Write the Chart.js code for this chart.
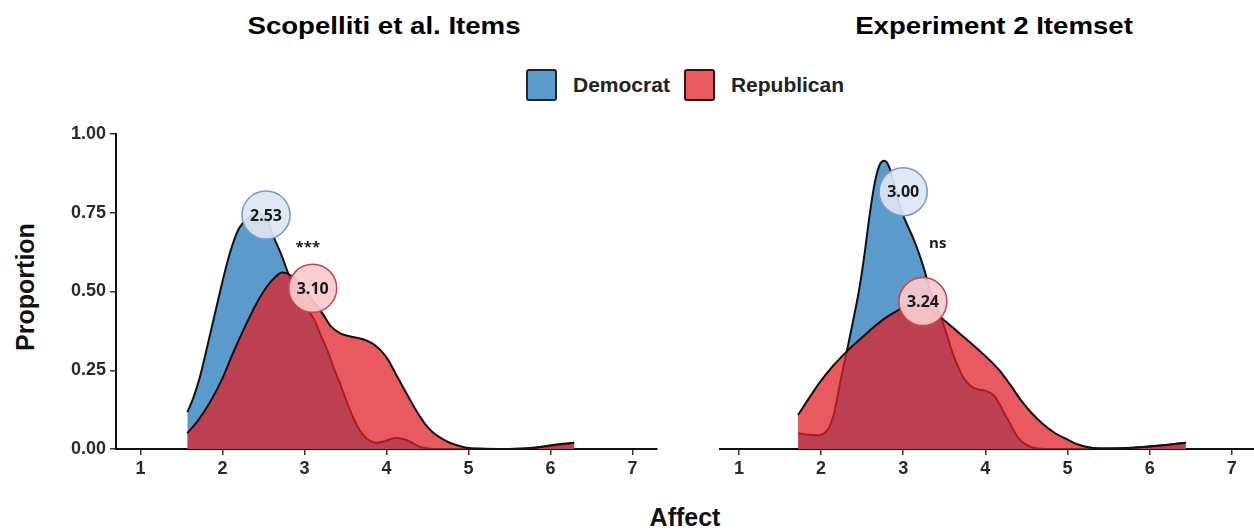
<!DOCTYPE html>
<html>
<head>
<meta charset="utf-8">
<title>Affect by party</title>
<script src="https://cdn.jsdelivr.net/npm/chart.js@4.4.1/dist/chart.umd.min.js"></script>
<style>
  html, body { margin: 0; padding: 0; background: #fff; overflow: hidden; }
  body { width: 1254px; height: 531px; position: relative; font-family: "Liberation Sans", Arial, sans-serif; }
  canvas { position: absolute; top: 0; }
  #leftChart { left: 0; }
  #rightChart { left: 700px; }
  .title { position: absolute; top: 12px; font-size: 24px; font-weight: bold; color: #000; white-space: nowrap; transform: translateX(-50%) scaleX(1.15); }
  .legend { position: absolute; top: 69px; left: 526px; display: flex; align-items: center; font-size: 21px; font-weight: bold; color: #222; }
  .swatch { width: 27px; height: 28px; border: 2px solid #1d2530; border-radius: 3px; display: inline-block; }
  .legend span.txt { margin: 0 14px 0 16px; }
  .ytitle { position: absolute; left: 25px; top: 287px; font-size: 25px; font-weight: bold; color: #111; transform: translate(-50%, -50%) rotate(-90deg); white-space: nowrap; }
  .xtitle { position: absolute; left: 685px; top: 503px; font-size: 25px; font-weight: bold; color: #111; transform: translateX(-50%); }
</style>
</head>
<body>
<div class="title" id="t0" style="left:384px"></div>
<div class="title" id="t1" style="left:994px"></div>
<div class="legend" id="legend"></div>
<div class="ytitle">Proportion</div>
<div class="xtitle">Affect</div>
<canvas id="leftChart" width="670" height="531"></canvas>
<canvas id="rightChart" width="554" height="531"></canvas>
<script>
/* ---- Data ---- */
const panelTitles = ['Scopelliti et al. Items', 'Experiment 2 Itemset'];
const seriesNames = ['Democrat', 'Republican'];
const xTicks = [1, 2, 3, 4, 5, 6, 7];
const yTicks = [0, 0.25, 0.5, 0.75, 1];

// left panel densities
const demLeftX = [1.57, 1.64, 1.72, 1.8, 1.88, 1.97, 2.05, 2.13, 2.2, 2.3, 2.42, 2.53, 2.62, 2.72, 2.8, 2.9, 3.0, 3.12, 3.2, 3.29, 3.36, 3.43, 3.5, 3.57, 3.66, 3.75, 3.88, 3.98, 4.11, 4.2, 4.29, 4.38, 4.47, 4.6, 5.0, 5.5, 5.9, 6.1, 6.29];
const demLeftY = [0.117, 0.16, 0.225, 0.31, 0.4, 0.5, 0.585, 0.655, 0.7, 0.73, 0.745, 0.735, 0.675, 0.615, 0.558, 0.5, 0.455, 0.41, 0.36, 0.305, 0.255, 0.21, 0.16, 0.114, 0.065, 0.035, 0.02, 0.025, 0.035, 0.032, 0.023, 0.01, 0.003, 0, 0, 0, 0.006, 0.013, 0.02];
const repLeftX = [1.57, 1.7, 1.85, 2.0, 2.12, 2.25, 2.39, 2.5, 2.62, 2.73, 2.84, 2.96, 3.1, 3.22, 3.32, 3.43, 3.55, 3.66, 3.76, 3.84, 3.93, 4.02, 4.11, 4.2, 4.29, 4.38, 4.47, 4.56, 4.67, 4.78, 4.9, 5.01, 5.2, 5.5, 5.75, 5.91, 6.1, 6.29];
const repLeftY = [0.05, 0.09, 0.15, 0.225, 0.3, 0.375, 0.45, 0.5, 0.54, 0.56, 0.55, 0.52, 0.47, 0.43, 0.39, 0.368, 0.358, 0.352, 0.344, 0.333, 0.313, 0.283, 0.24, 0.197, 0.155, 0.114, 0.08, 0.054, 0.034, 0.019, 0.009, 0.003, 0.001, 0, 0.002, 0.008, 0.015, 0.02];

// right panel densities
const demRightX = [1.72, 1.85, 1.98, 2.06, 2.11, 2.16, 2.2, 2.24, 2.33, 2.4, 2.46, 2.53, 2.59, 2.65, 2.71, 2.77, 2.83, 2.9, 2.98, 3.06, 3.12, 3.18, 3.25, 3.32, 3.4, 3.47, 3.54, 3.6, 3.67, 3.73, 3.8, 3.86, 3.93, 3.99, 4.06, 4.12, 4.21, 4.28, 4.34, 4.4, 4.47, 4.6, 4.8, 5.4, 5.8, 6.1, 6.44];
const demRightY = [0.05, 0.045, 0.044, 0.055, 0.075, 0.114, 0.165, 0.22, 0.33, 0.42, 0.5, 0.62, 0.74, 0.84, 0.9, 0.915, 0.895, 0.83, 0.755, 0.705, 0.67, 0.63, 0.575, 0.51, 0.455, 0.41, 0.355, 0.305, 0.26, 0.228, 0.205, 0.194, 0.188, 0.186, 0.178, 0.165, 0.124, 0.09, 0.06, 0.035, 0.018, 0.003, 0, 0, 0.004, 0.01, 0.02];
const repRightX = [1.72, 1.85, 1.98, 2.15, 2.33, 2.46, 2.59, 2.75, 2.94, 3.05, 3.15, 3.25, 3.36, 3.47, 3.65, 3.82, 4.0, 4.17, 4.3, 4.43, 4.56, 4.69, 4.85, 5.0, 5.1, 5.21, 5.4, 5.6, 5.8, 6.0, 6.2, 6.44];
const repRightY = [0.108, 0.16, 0.21, 0.265, 0.314, 0.345, 0.375, 0.41, 0.441, 0.455, 0.46, 0.455, 0.438, 0.415, 0.375, 0.337, 0.295, 0.25, 0.205, 0.156, 0.115, 0.082, 0.05, 0.03, 0.017, 0.008, 0.002, 0.002, 0.004, 0.008, 0.013, 0.02];

// group means and where their markers sit
const demMeans = [2.53, 3.00];
const repMeans = [3.10, 3.24];
const demMeanY = [0.743, 0.817];
const repMeanY = [0.51, 0.468];

// significance annotation
const sigLabels = ['***', 'ns'];
const sigX = [3.04, 3.42];
const sigY = [0.64, 0.651];

/* ---- Style ---- */
const FONT = '"Liberation Sans", Arial, sans-serif';
const NUM_FONT = '"Open Sans", "Noto Sans", sans-serif';
const demColor = '#5b9bcb';
const repColor = 'rgba(224, 33, 39, 0.74)';
const repSwatch = '#e85a5e';

/* ---- Titles + legend ---- */
document.getElementById('t0').textContent = panelTitles[0];
document.getElementById('t1').textContent = panelTitles[1];
const legend = document.getElementById('legend');
[demColor, repSwatch].forEach((c, i) => {
  const sw = document.createElement('span');
  sw.className = 'swatch';
  sw.style.background = c;
  if (i === 1) sw.style.borderColor = '#2e1518';
  const t = document.createElement('span');
  t.className = 'txt';
  t.textContent = seriesNames[i];
  legend.appendChild(sw);
  legend.appendChild(t);
});

function pts(xs, ys) {
  return xs.map((x, i) => ({ x: x, y: ys[i] }));
}

const annotations = {
  id: 'annotations',
  afterDatasetsDraw(chart, args, opts) {
    const ctx = chart.ctx;
    const xs = chart.scales.x, ys = chart.scales.y;
    ctx.save();
    ctx.textAlign = 'center';
    ctx.textBaseline = 'middle';
    ctx.fillStyle = '#1a1a1a';
    ctx.font = 'bold 16px ' + NUM_FONT;
    chart.data.datasets.forEach((ds, i) => {
      if (ds.meanValue === undefined) return;
      const p = chart.getDatasetMeta(i).data[0];
      ctx.fillText(ds.meanValue.toFixed(2), p.x, p.y + 1);
    });
    ctx.font = 'bold 15px ' + NUM_FONT;
    ctx.fillText(opts.text, xs.getPixelForValue(opts.x), ys.getPixelForValue(opts.y));
    ctx.restore();
  }
};

function makePanel(id, idx, dem, rep, showY, xMin, xMax, padding) {
  return new Chart(document.getElementById(id), {
    type: 'line',
    data: {
      datasets: [
        {
          type: 'scatter',
          data: [{ x: demMeans[idx], y: demMeanY[idx] }],
          meanValue: demMeans[idx],
          pointRadius: 24,
          pointBackgroundColor: 'rgba(221, 229, 244, 0.92)',
          pointBorderColor: '#7898c8',
          pointBorderWidth: 1.5,
        },
        {
          type: 'scatter',
          data: [{ x: repMeans[idx], y: repMeanY[idx] }],
          meanValue: repMeans[idx],
          pointRadius: 24,
          pointBackgroundColor: 'rgba(249, 203, 205, 0.92)',
          pointBorderColor: '#c8474c',
          pointBorderWidth: 1.5,
        },
        {
          label: seriesNames[1],
          data: rep,
          borderColor: '#111',
          borderWidth: 2,
          backgroundColor: repColor,
          fill: 'origin',
          pointRadius: 0,
          cubicInterpolationMode: 'monotone',
        },
        {
          label: seriesNames[0],
          data: dem,
          borderColor: '#111',
          borderWidth: 2,
          backgroundColor: demColor,
          fill: 'origin',
          pointRadius: 0,
          cubicInterpolationMode: 'monotone',
        }
      ]
    },
    options: {
      responsive: false,
      animation: false,
      devicePixelRatio: 1,
      layout: { padding: padding, autoPadding: false },
      plugins: {
        legend: { display: false },
        tooltip: { enabled: false },
        annotations: { text: sigLabels[idx], x: sigX[idx], y: sigY[idx] }
      },
      scales: {
        x: {
          type: 'linear',
          min: xMin,
          max: xMax,
          afterBuildTicks: a => { a.ticks = xTicks.map(v => ({ value: v })); },
          afterFit: a => { a.height = 40; },
          ticks: { color: '#2a2a2a', font: { family: FONT, size: 18, weight: 'bold' }, padding: 3, maxRotation: 0 },
          grid: { drawOnChartArea: false, tickLength: 6, color: '#333', lineWidth: 1.5 },
          border: { color: '#111', width: 2 }
        },
        y: {
          display: showY,
          min: 0,
          max: 1,
          afterBuildTicks: a => { a.ticks = yTicks.map(v => ({ value: v })); },
          afterFit: a => { if (showY) a.width = 116; },
          ticks: { color: '#2a2a2a', font: { family: FONT, size: 18, weight: 'bold' }, padding: 4, callback: v => v.toFixed(2) },
          grid: { drawOnChartArea: false, tickLength: 6, color: '#333', lineWidth: 1.5 },
          border: { color: '#111', width: 2 }
        }
      }
    },
    plugins: [annotations]
  });
}

makePanel('leftChart', 0, pts(demLeftX, demLeftY), pts(repLeftX, repLeftY), true, 0.7, 7.3,
  { top: 134, right: 13, bottom: 42, left: 0 });
makePanel('rightChart', 1, pts(demRightX, demRightY), pts(repRightX, repRightY), false, 0.77, 7.27,
  { top: 134, right: 0, bottom: 42, left: 20 });
</script>
</body>
</html>
